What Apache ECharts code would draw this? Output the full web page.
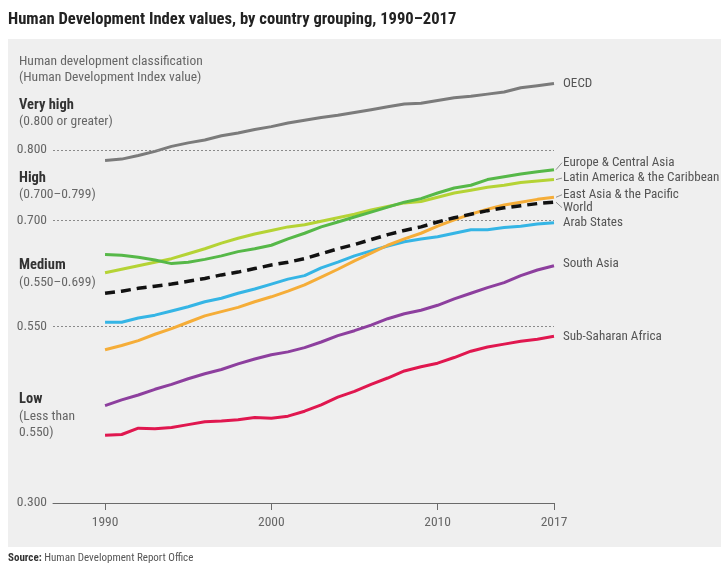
<!DOCTYPE html>
<html><head><meta charset="utf-8">
<script src="https://cdn.jsdelivr.net/npm/echarts@6/dist/echarts.min.js"></script>
<style>html,body{margin:0;padding:0;background:#fff}#c{width:721px;height:563px}</style>
</head><body><div id="c"></div>
<script>
const years = [1990,1991,1992,1993,1994,1995,1996,1997,1998,1999,2000,2001,2002,2003,2004,2005,2006,2007,2008,2009,2010,2011,2012,2013,2014,2015,2016,2017];
const oecd      = [0.785,0.787,0.792,0.798,0.805,0.810,0.814,0.820,0.824,0.829,0.833,0.838,0.842,0.846,0.849,0.853,0.857,0.861,0.865,0.866,0.870,0.874,0.876,0.879,0.882,0.888,0.891,0.894];
const europeCA  = [0.652,0.651,0.648,0.644,0.639,0.641,0.645,0.650,0.656,0.660,0.665,0.674,0.682,0.691,0.698,0.705,0.712,0.719,0.726,0.731,0.739,0.746,0.750,0.758,0.762,0.766,0.769,0.772];
const latinAmC  = [0.626,0.631,0.636,0.641,0.646,0.653,0.660,0.668,0.675,0.681,0.686,0.691,0.694,0.699,0.704,0.709,0.715,0.720,0.725,0.727,0.733,0.739,0.743,0.747,0.750,0.754,0.756,0.758];
const eastAsiaP = [0.517,0.523,0.530,0.539,0.547,0.556,0.565,0.571,0.577,0.585,0.592,0.600,0.609,0.620,0.631,0.643,0.654,0.665,0.674,0.682,0.692,0.701,0.709,0.716,0.722,0.726,0.730,0.733];
const world     = [0.597,0.600,0.604,0.607,0.610,0.614,0.618,0.623,0.627,0.632,0.637,0.641,0.646,0.653,0.660,0.666,0.673,0.680,0.686,0.691,0.698,0.704,0.709,0.714,0.718,0.721,0.724,0.726];
const arabStates= [0.556,0.556,0.562,0.566,0.572,0.578,0.585,0.590,0.597,0.603,0.610,0.617,0.622,0.633,0.641,0.650,0.657,0.664,0.670,0.674,0.677,0.682,0.687,0.687,0.690,0.692,0.695,0.697];
const southAsia = [0.438,0.446,0.453,0.461,0.468,0.476,0.483,0.489,0.497,0.504,0.510,0.514,0.520,0.528,0.537,0.544,0.552,0.561,0.568,0.573,0.580,0.589,0.597,0.605,0.612,0.622,0.630,0.636];
const subSahara = [0.396,0.397,0.406,0.405,0.407,0.411,0.415,0.416,0.418,0.421,0.420,0.423,0.430,0.439,0.450,0.458,0.468,0.477,0.487,0.493,0.498,0.506,0.515,0.521,0.525,0.529,0.532,0.536];

const xTickYears = [1990,2000,2010,2017];
const yTickValues = [0.3,0.55,0.7,0.8];
const thresholdValues = [0.55,0.7,0.8];

const seriesDefs = [
  {name:'OECD', data:oecd},
  {name:'Sub-Saharan Africa', data:subSahara},
  {name:'South Asia', data:southAsia},
  {name:'Arab States', data:arabStates},
  {name:'East Asia & the Pacific', data:eastAsiaP},
  {name:'Latin America & the Caribbean', data:latinAmC},
  {name:'Europe & Central Asia', data:europeCA},
  {name:'World', data:world}
];

// styling (kept separate from data)
const FF = "'Roboto Condensed','DejaVu Sans Condensed',sans-serif";
const style = {
  'OECD': {color:'#7b7b7b', dy:0, lead:false},
  'Sub-Saharan Africa': {color:'#e0174f', dy:0, lead:false},
  'South Asia': {color:'#8d3f9e', dy:-2.5, lead:false},
  'Arab States': {color:'#35b5e5', dy:0.5, lead:false},
  'East Asia & the Pacific': {color:'#f5ad38', dy:-2.5, lead:true},
  'Latin America & the Caribbean': {color:'#b5d335', dy:-1.5, lead:true},
  'Europe & Central Asia': {color:'#56b848', dy:-7, lead:true},
  'World': {color:'#111111', dy:5.5, lead:true, dash:[10,6]}
};

const chart = echarts.init(document.getElementById('c'), null, {renderer:'canvas'});

const series = seriesDefs.map((s, i) => {
  const st = style[s.name];
  const o = {
    name: s.name, type:'line', data: years.map((y, k) => [y, s.data[k]]),
    showSymbol:false, symbol:'none', smooth:false, z: 3 + i,
    lineStyle:{color:st.color, width: s.name==='World' ? 3.5 : 3, type: st.dash || 'solid', cap:'butt'},
    itemStyle:{color:st.color},
    endLabel:{show:true, formatter: s.name, distance: 9, offset:[0, st.dy], color:'#555', fontSize:13.1, fontFamily:FF},
    emphasis:{disabled:true}, silent:true
  };
  if (i === 0) {
    o.markLine = {
      silent:true, symbol:'none', label:{show:false},
      lineStyle:{type:[2,2], color:'#8a8a8a', width:1},
      data: thresholdValues.map(v => ({yAxis:v}))
    };
  }
  return o;
});

chart.setOption({
  animation:false,
  backgroundColor:'#ffffff',
  grid:{left:53, right:167, top:44, bottom:60, containLabel:false},
  xAxis:{
    type:'value', min:1986.87, max:2017,
    axisLine:{show:true, lineStyle:{color:'#6a6a6a', width:1}},
    axisTick:{show:true, customValues:xTickYears, length:7, lineStyle:{color:'#6a6a6a'}},
    axisLabel:{customValues:xTickYears, formatter:v=>String(v), margin:13, color:'#666', fontSize:13.5, fontFamily:FF},
    splitLine:{show:false}
  },
  yAxis:{
    type:'value', min:0.3, max:0.95,
    axisLine:{show:false}, axisTick:{show:false}, splitLine:{show:false},
    axisLabel:{customValues:yTickValues, formatter:v=>v.toFixed(3), margin:6, color:'#666', fontSize:13.5, fontFamily:FF}
  },
  series: series
});

// background panel, texts and label leader lines
const g = [];
g.push({type:'rect', z:-100, silent:true, shape:{x:8, y:39, width:713, height:508}, style:{fill:'#efefef'}});
g.push({type:'text', x:8, y:20, style:{text:'Human Development Index values, by country grouping, 1990–2017', fill:'#222', font:"bold 16.6px "+FF, textVerticalAlign:'middle'}});
const leftTexts = [
  ['Human development classification', 62, false],
  ['(Human Development Index value)', 78, false],
  ['Very high', 105, true],
  ['(0.800 or greater)', 122, false],
  ['High', 178, true],
  ['(0.700–0.799)', 195, false],
  ['Medium', 265, true],
  ['(0.550–0.699)', 283, false],
  ['Low', 399, true],
  ['(Less than', 416.5, false],
  ['0.550)', 433, false]
];
leftTexts.forEach(t => {
  g.push({type:'text', x:19, y:t[1], style:{text:t[0], fill: t[2] ? '#333' : '#666', font:(t[2]?'bold 14.5px ':'13.5px ')+FF, textVerticalAlign:'middle'}});
});
g.push({type:'text', x:8, y:558.5, style:{text:'{b|Source:} Human Development Report Office', fill:'#555', font:'11px '+FF, textVerticalAlign:'middle',
  rich:{b:{fontWeight:'bold', fill:'#333', fontSize:11, fontFamily:FF}}}});

seriesDefs.forEach(s => {
  const st = style[s.name];
  if (!st.lead) return;
  const last = s.data[s.data.length - 1];
  const p = chart.convertToPixel({gridIndex:0}, [years[years.length-1], last]);
  g.push({type:'polyline', silent:true, z:10, shape:{points:[[p[0]+2, p[1]], [p[0]+8, p[1]+st.dy]]}, style:{stroke:'#777', lineWidth:0.8, fill:null}});
});
chart.setOption({graphic:{elements:g}});
</script>
</body></html>
